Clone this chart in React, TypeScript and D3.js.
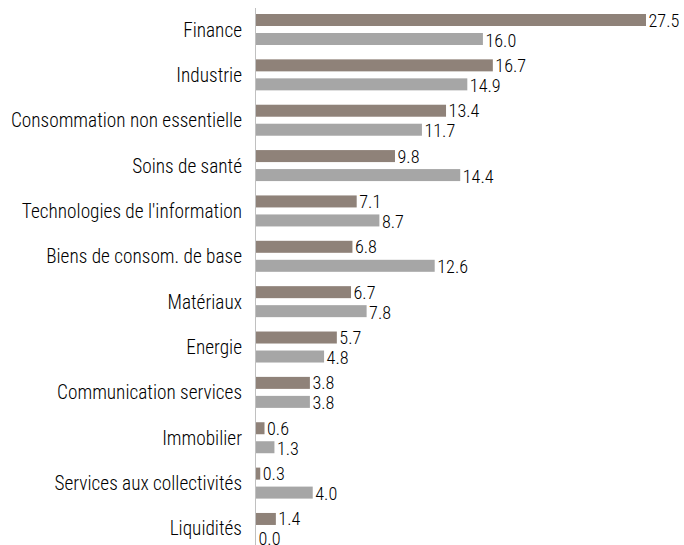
import React from "react";
import * as d3 from "d3";

const categories = [
  "Finance",
  "Industrie",
  "Consommation non essentielle",
  "Soins de santé",
  "Technologies de l'information",
  "Biens de consom. de base",
  "Matériaux",
  "Energie",
  "Communication services",
  "Immobilier",
  "Services aux collectivités",
  "Liquidités",
];
const seriesA = [27.5, 16.7, 13.4, 9.8, 7.1, 6.8, 6.7, 5.7, 3.8, 0.6, 0.3, 1.4];
const seriesB = [16.0, 14.9, 11.7, 14.4, 8.7, 12.6, 7.8, 4.8, 3.8, 1.3, 4.0, 0.0];
const colors = ["#8f8279", "#a6a6a6"];

const W = 684;
const H = 545;
const FONT = "'Liberation Sans Narrow', 'Arial Narrow', 'Roboto Condensed', sans-serif";

export default function App() {
  const x0 = 256;
  const x = d3.scaleLinear().domain([0, 27.5]).range([x0, 646]);
  const step = 45.36;
  const y = d3.scaleBand().domain(categories).range([14, 14 + step * 12]).paddingInner(0).paddingOuter(0);
  const barH = 12;
  return (
    <svg width={W} height={H} style={{ position: "absolute", left: 0, top: 0, background: "#fff" }}>
      <line x1={x0 - 0.5} x2={x0 - 0.5} y1={8} y2={H} stroke="#c0c0c0" strokeWidth={1} />
      {categories.map((c, i) => {
        const ya = y(c) as number;
        const yb = ya + 19;
        const cy = ya + 16;
        return (
          <g key={c}>
            <text x={242} y={cy} textAnchor="end" dominantBaseline="central" fontFamily={FONT} fontWeight={300} fontSize={19.3} fill="#000">
              {c}
            </text>
            <rect x={x0} y={ya} width={x(seriesA[i]) - x0} height={barH} fill={colors[0]} />
            <rect x={x0} y={yb} width={x(seriesB[i]) - x0} height={barH} fill={colors[1]} />
            <text x={x(seriesA[i]) + 2.5} y={ya + barH / 2} dominantBaseline="central" fontFamily={FONT} fontWeight={300} fontSize={18.2} fill="#000">
              {seriesA[i].toFixed(1)}
            </text>
            <text x={x(seriesB[i]) + 2.5} y={yb + barH / 2 + 1} dominantBaseline="central" fontFamily={FONT} fontWeight={300} fontSize={18.2} fill="#000">
              {seriesB[i].toFixed(1)}
            </text>
          </g>
        );
      })}
    </svg>
  );
}
